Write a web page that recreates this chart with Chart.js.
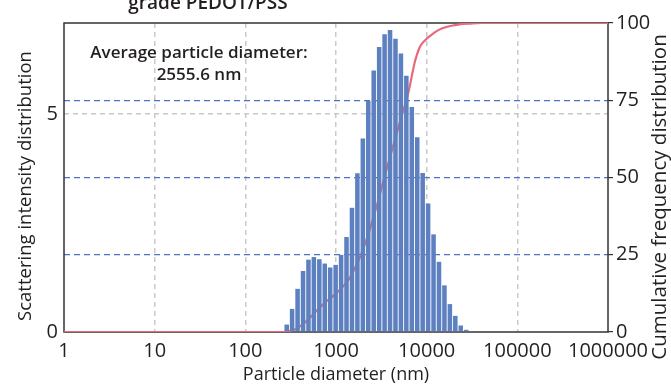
<!DOCTYPE html>
<html>
<head>
<meta charset="utf-8">
<script src="https://cdn.jsdelivr.net/npm/chart.js@4.4.1/dist/chart.umd.min.js"></script>
<style>
  html, body { margin: 0; padding: 0; background: #fff; }
  #wrap { width: 671px; height: 386px; }
</style>
</head>
<body>
<div id="wrap"><canvas id="psd"></canvas></div>
<script>
// bin centres (nm) and scattering intensity per bin
const diameters = [286, 328, 377, 433, 497, 570, 655, 752, 863, 991, 1138, 1306,
  1500, 1722, 1977, 2270, 2606, 2992, 3436, 3945, 4529, 5200, 5970, 6855, 7871,
  9037, 10375, 11912, 13677, 15703, 18030, 20701, 23768, 27290];
const intensity = [0.17, 0.53, 0.99, 1.40, 1.66, 1.72, 1.67, 1.57, 1.48, 1.54,
  1.77, 2.18, 2.85, 3.64, 4.44, 5.30, 6.00, 6.54, 6.83, 6.93, 6.73, 6.39, 5.88,
  5.16, 4.47, 3.65, 2.95, 2.24, 1.61, 1.07, 0.64, 0.37, 0.15, 0.05];

// cumulative curve (%), read at bin edges
const cumDiameters = [1, 267, 306, 352, 404, 463, 532, 611, 702, 805, 925, 1062,
  1219, 1400, 1607, 1845, 2118, 2432, 2793, 3206, 3681, 4227, 4853, 5572, 6397,
  7345, 8433, 9683, 11117, 12764, 14655, 16827, 19320, 22182, 25468, 29242,
  39811, 1000000];
const cumulative = [0, 0, 0.3, 0.9, 1.9, 3.3, 5.0, 6.9, 8.6, 10.2, 11.6, 13.2,
  15.0, 17.3, 20.5, 24.3, 29.0, 34.5, 40.5, 47.0, 53.5, 59.8, 66.0, 72.0, 78.5,
  87.0, 92.3, 94.5, 96.0, 97.3, 98.2, 98.8, 99.2, 99.5, 99.7, 99.8, 100, 100];

const xTicks = [1, 10, 100, 1000, 10000, 100000, 1000000];
const leftTicks = [0, 5];
const rightTicks = [0, 25, 50, 75, 100];

const FONT = "'Open Sans', 'DejaVu Sans', sans-serif";
const INK = '#231f20';

// frame drawn under the datasets so the red curve sits on top of it
const frame = {
  id: 'frame',
  beforeDatasetsDraw(chart) {
    const { ctx, chartArea: a } = chart;
    ctx.save();
    ctx.strokeStyle = '#333';
    ctx.lineWidth = 1.5;
    ctx.strokeRect(a.left, a.top, a.right - a.left, a.bottom - a.top);
    ctx.restore();
  },
};

const labels = {
  id: 'labels',
  afterDraw(chart) {
    const { ctx } = chart;
    ctx.save();
    ctx.fillStyle = INK;
    ctx.textAlign = 'center';
    ctx.textBaseline = 'alphabetic';

    ctx.font = `600 19px ${FONT}`;
    ctx.fillText('grade PEDOT/PSS', 208, 9);

    ctx.font = `600 17px ${FONT}`;
    ctx.fillText('Average particle diameter:', 199, 58);
    ctx.fillText('2555.6 nm', 199, 80);

    ctx.textBaseline = 'middle';
    ctx.font = `18.5px ${FONT}`;
    ctx.save();
    ctx.translate(26, 186);
    ctx.rotate(-Math.PI / 2);
    ctx.fillText('Scattering intensity distribution', 0, 0);
    ctx.restore();

    ctx.font = `20.5px ${FONT}`;
    ctx.translate(660, 197);
    ctx.rotate(-Math.PI / 2);
    ctx.fillText('Cumulative frequency distribution', 0, 0);
    ctx.restore();
  },
};

new Chart(document.getElementById('psd'), {
  data: {
    datasets: [
      {
        type: 'bar',
        data: diameters.map((d, i) => ({ x: d, y: intensity[i] })),
        backgroundColor: '#5d80c1',
        barPercentage: 0.84,
        categoryPercentage: 1,
        xAxisID: 'x',
        yAxisID: 'y',
        order: 1,
      },
      {
        // sits behind the bars, only shows through the gaps
        type: 'line',
        data: cumDiameters.map((d, i) => ({ x: d, y: cumulative[i] })),
        borderColor: '#e8697a',
        borderWidth: 2.2,
        pointRadius: 0,
        cubicInterpolationMode: 'monotone',
        xAxisID: 'x',
        yAxisID: 'y2',
        order: 2,
      },
    ],
  },
  options: {
    responsive: true,
    maintainAspectRatio: false,
    animation: false,
    layout: { padding: { top: 23, left: 0, right: 0, bottom: 0 } },
    plugins: { legend: { display: false }, tooltip: { enabled: false } },
    scales: {
      x: {
        type: 'logarithmic',
        min: 1,
        max: 1000000,
        offset: false,
        afterBuildTicks: (scale) => {
          scale.ticks = xTicks.map((v) => ({ value: v }));
        },
        afterFit: (scale) => { scale.height = 54; },
        ticks: {
          autoSkip: false,
          maxRotation: 0,
          padding: 7,
          color: INK,
          font: { family: FONT, size: 20 },
          callback: (v) => String(v),
        },
        grid: {
          offset: false,
          drawTicks: false,
          lineWidth: 1.5,
          color: (c) => (c.index === 0 || c.index === xTicks.length - 1 ? 'rgba(0,0,0,0)' : '#c9c9c9'),
        },
        border: { display: false, dash: [5, 4] },
        title: {
          display: true,
          text: 'Particle diameter (nm)',
          color: INK,
          font: { family: FONT, size: 18 },
          padding: { top: 0, bottom: 0 },
        },
      },
      y: {
        position: 'left',
        min: 0,
        max: 7.09,
        afterBuildTicks: (scale) => {
          scale.ticks = leftTicks.map((v) => ({ value: v }));
        },
        afterFit: (scale) => { scale.width = 64; },
        ticks: {
          padding: 6,
          color: INK,
          font: { family: FONT, size: 20 },
        },
        grid: {
          drawTicks: false,
          lineWidth: 1.5,
          color: (c) => (c.tick && c.tick.value === 5 ? '#c9c9c9' : 'rgba(0,0,0,0)'),
        },
        border: { display: false, dash: [5, 4] },
      },
      y2: {
        position: 'right',
        min: 0,
        max: 100,
        afterBuildTicks: (scale) => {
          scale.ticks = rightTicks.map((v) => ({ value: v }));
        },
        afterFit: (scale) => { scale.width = 63; },
        ticks: {
          padding: 3,
          color: INK,
          font: { family: FONT, size: 20 },
        },
        grid: {
          drawTicks: true,
          tickLength: 5,
          tickColor: '#333',
          tickWidth: 1.2,
          lineWidth: 1.2,
          color: (c) => (c.tick && c.tick.value > 0 && c.tick.value < 100 ? '#4d72c4' : 'rgba(0,0,0,0)'),
        },
        border: { display: false, dash: [6, 4] },
      },
    },
  },
  plugins: [frame, labels],
});
</script>
</body>
</html>
